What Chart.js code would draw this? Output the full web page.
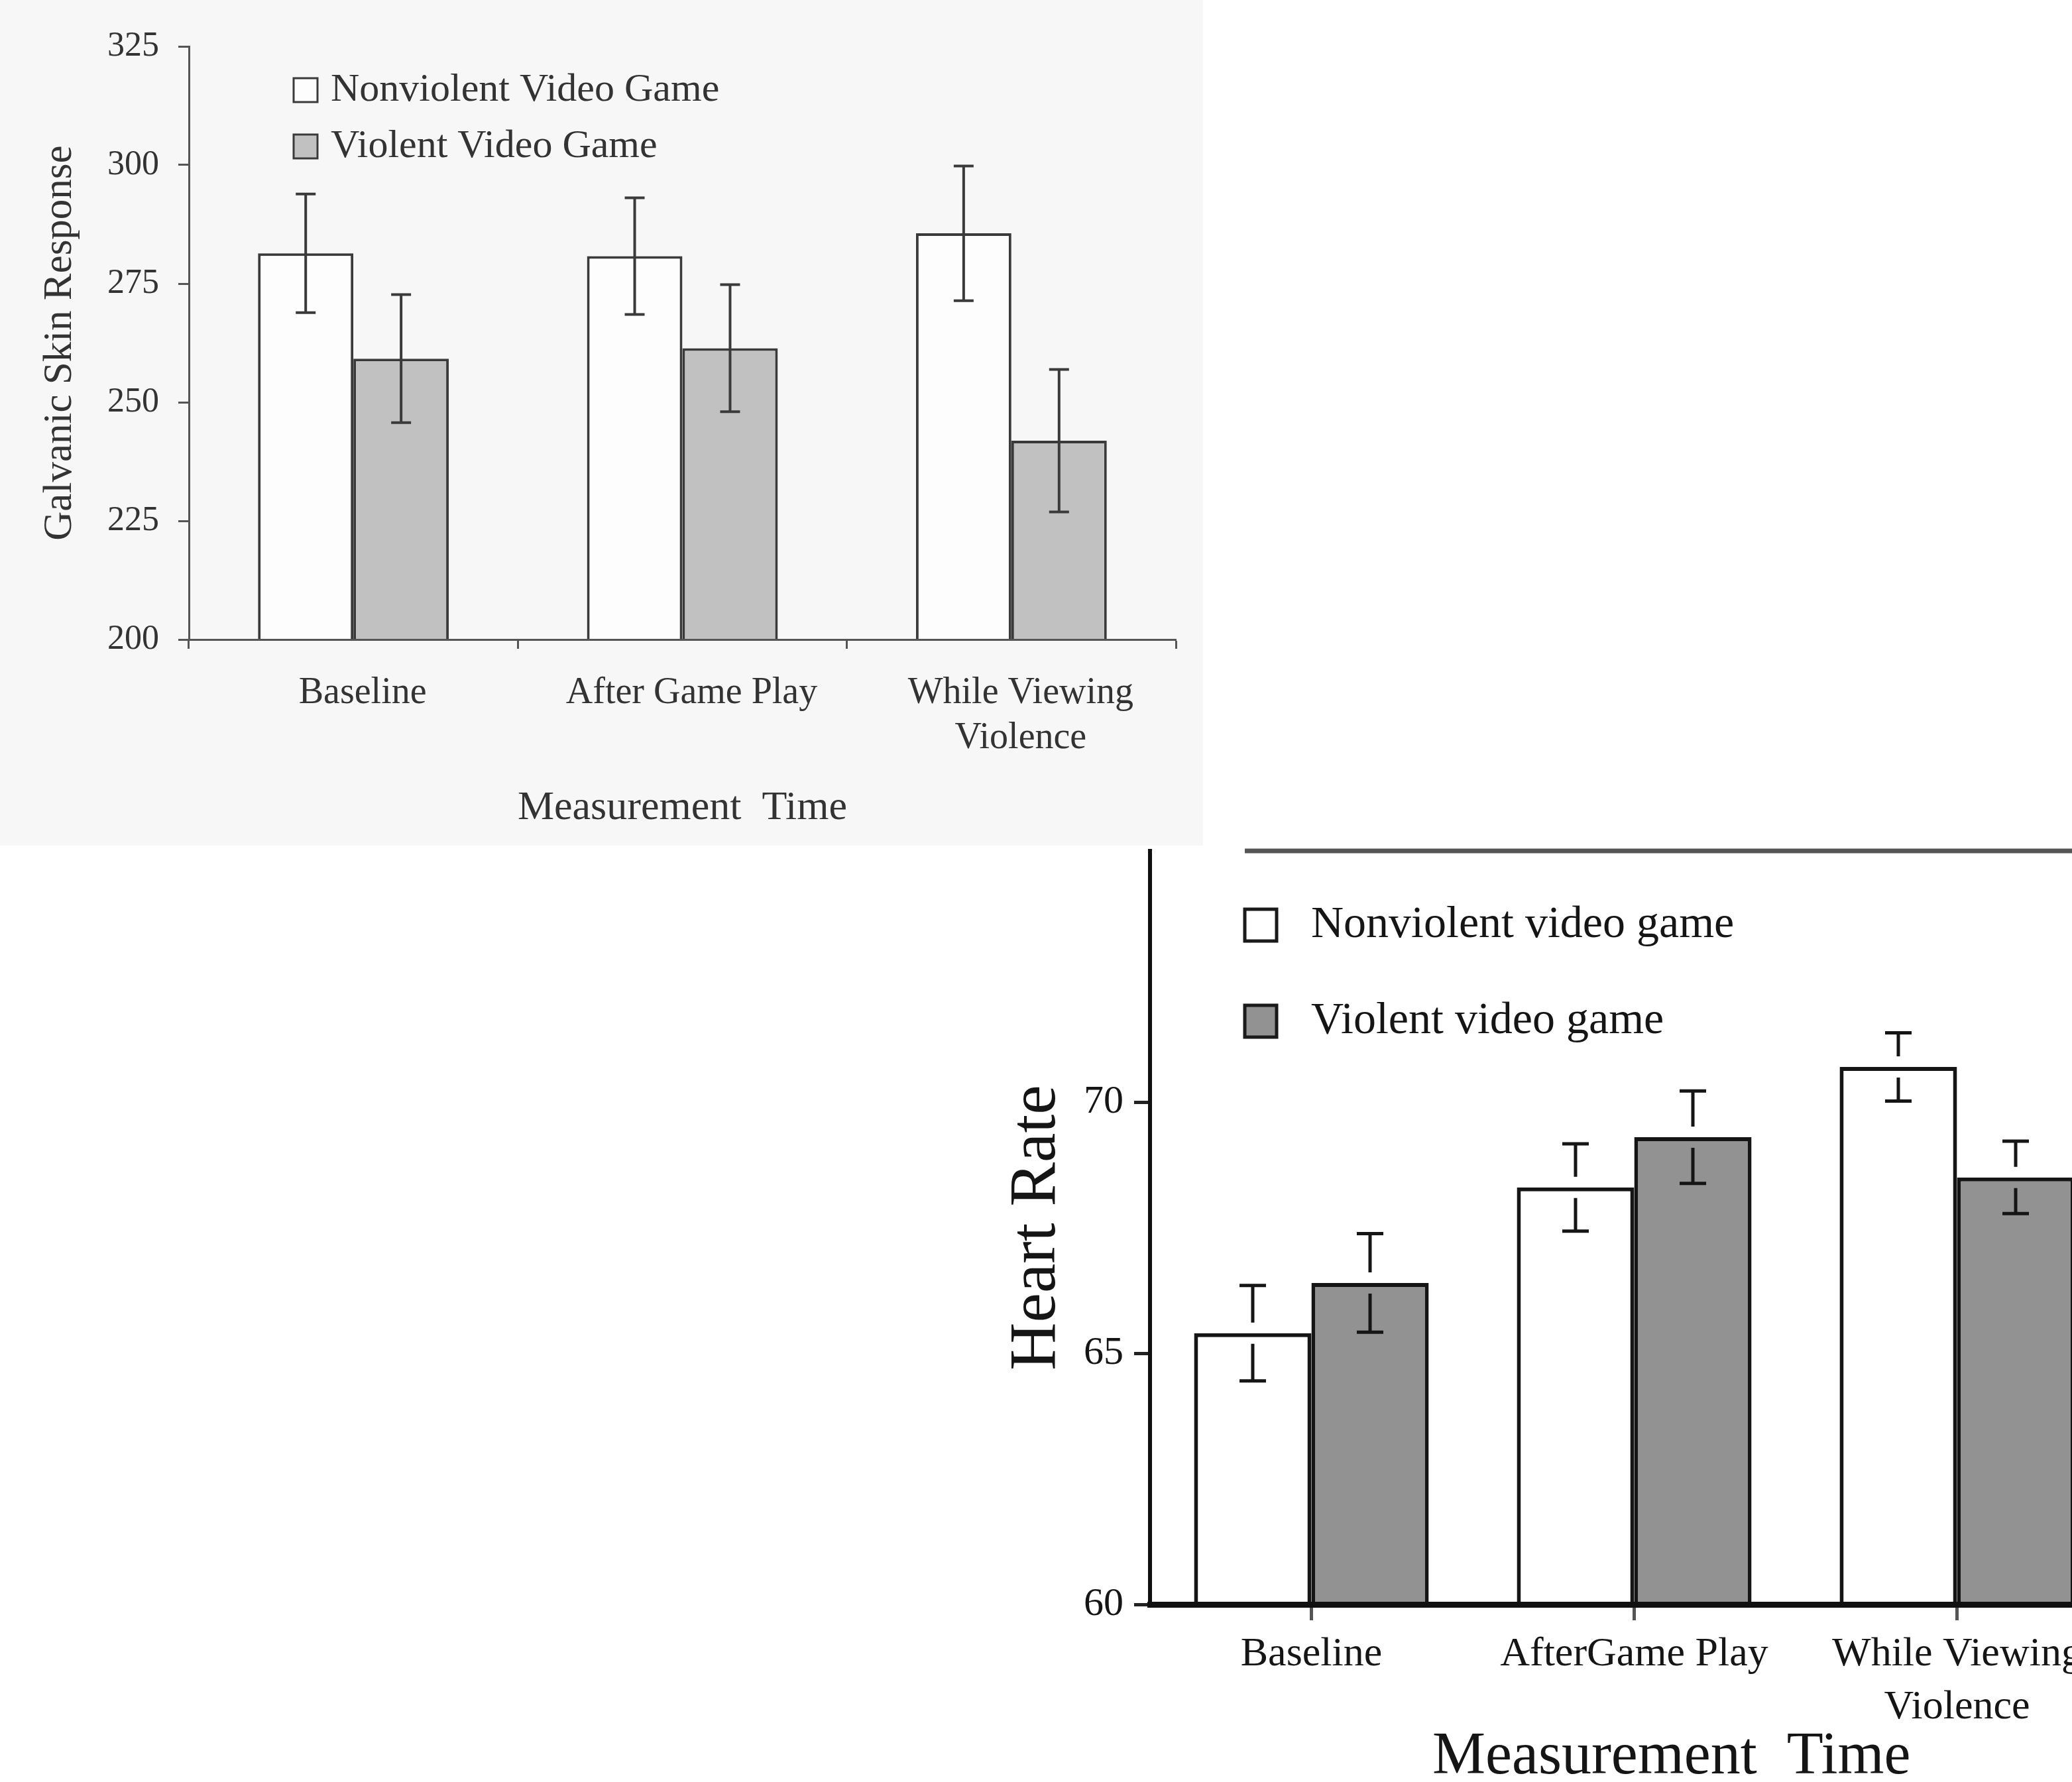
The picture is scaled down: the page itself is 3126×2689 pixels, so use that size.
<!DOCTYPE html>
<html>
<head>
<meta charset="utf-8">
<script src="https://cdn.jsdelivr.net/npm/chart.js@4.4.0/dist/chart.umd.min.js"></script>
<style>
  html, body { margin: 0; padding: 0; background: #fff; overflow: hidden; width: 3126px; height: 2689px; }
  #panel1 { position: absolute; left: 0; top: 0; width: 1815px; height: 1276px; background: #f7f7f7; }
  #gsrChart { position: absolute; left: 0; top: 0; }
  #hrChart { position: absolute; left: 1480px; top: 1270px; }
</style>
</head>
<body>
<div id="panel1"></div>
<canvas id="gsrChart" width="1815" height="1276"></canvas>
<canvas id="hrChart" width="1716" height="1480"></canvas>
<script>
// top chart: galvanic skin response
const gsrCategories = ["Baseline", "After Game Play", ["While Viewing", "Violence"]];
const gsrNonviolent = [281.4, 280.8, 285.6];
const gsrNonviolentErr = [12.5, 12.3, 14.2];
const gsrViolent = [259.2, 261.4, 241.9];
const gsrViolentErr = [13.5, 13.4, 15.0];
const gsrTicks = [200, 225, 250, 275, 300, 325];

// bottom chart: heart rate
const hrCategories = ["Baseline", "AfterGame Play", ["While Viewing", "Violence"]];
const hrNonviolent = [65.4, 68.3, 70.7];
const hrNonviolentErr = [0.95, 0.87, 0.68];
const hrViolent = [66.4, 69.3, 68.5];
const hrViolentErr = [0.98, 0.92, 0.72];
const hrTicks = [60, 65, 70];

const serif = "Liberation Serif";

const errorBars = {
  id: "errorBars",
  afterDatasetsDraw(chart, args, o) {
    const ctx = chart.ctx;
    const y = chart.scales.y;
    chart.data.datasets.forEach((ds, i) => {
      chart.getDatasetMeta(i).data.forEach((bar, j) => {
        const v = ds.data[j], e = ds.errors[j];
        const top = y.getPixelForValue(v + e);
        const bot = y.getPixelForValue(v - e);
        const mid = y.getPixelForValue(v);
        ctx.save();
        ctx.strokeStyle = o.color;
        ctx.lineWidth = o.width;
        ctx.beginPath();
        if (o.gap) {
          ctx.moveTo(bar.x, top); ctx.lineTo(bar.x, mid - o.gap);
          ctx.moveTo(bar.x, mid + o.gap); ctx.lineTo(bar.x, bot);
        } else {
          ctx.moveTo(bar.x, top); ctx.lineTo(bar.x, bot);
        }
        ctx.moveTo(bar.x - o.cap / 2, top); ctx.lineTo(bar.x + o.cap / 2, top);
        ctx.moveTo(bar.x - o.cap / 2, bot); ctx.lineTo(bar.x + o.cap / 2, bot);
        ctx.stroke();
        ctx.restore();
      });
    });
  }
};

const boxLegend = {
  id: "boxLegend",
  afterDraw(chart, args, o) {
    const ctx = chart.ctx;
    ctx.save();
    if (o.topLine) {
      const ly = chart.chartArea.top;
      ctx.strokeStyle = o.topLine.color;
      ctx.lineWidth = o.topLine.width;
      ctx.beginPath();
      ctx.moveTo(o.x, ly);
      ctx.lineTo(chart.width, ly);
      ctx.stroke();
    }
    chart.data.datasets.forEach((ds, i) => {
      const cy = o.y + i * o.step;
      ctx.fillStyle = ds.backgroundColor;
      ctx.fillRect(o.x, cy - o.box / 2, o.box, o.box);
      ctx.strokeStyle = o.boxStroke;
      ctx.lineWidth = o.lineWidth;
      ctx.strokeRect(o.x, cy - o.box / 2, o.box, o.box);
      ctx.fillStyle = o.color;
      ctx.font = o.font;
      ctx.textBaseline = "middle";
      ctx.textAlign = "left";
      ctx.fillText(ds.label, o.x + o.box + o.textGap, cy);
    });
    ctx.restore();
  }
};

new Chart(document.getElementById("gsrChart"), {
  type: "bar",
  data: {
    labels: gsrCategories,
    datasets: [
      { label: "Nonviolent Video Game", data: gsrNonviolent, errors: gsrNonviolentErr,
        backgroundColor: "#fdfdfd", borderColor: "#3a3a3a", borderWidth: 4 },
      { label: "Violent Video Game", data: gsrViolent, errors: gsrViolentErr,
        backgroundColor: "#c1c1c1", borderColor: "#3a3a3a", borderWidth: 4 }
    ]
  },
  options: {
    responsive: false,
    animation: false,
    layout: { padding: { top: 70, right: 41, left: 0, bottom: 0 } },
    datasets: { bar: { categoryPercentage: 0.58, barPercentage: 1 } },
    plugins: {
      legend: { display: false },
      tooltip: { enabled: false },
      errorBars: { color: "#3a3a3a", width: 4, cap: 30 },
      boxLegend: { x: 443, y: 136, step: 85, box: 36, textGap: 20, lineWidth: 3,
        boxStroke: "#3a3a3a", color: "#333", font: "60px " + serif }
    },
    scales: {
      x: {
        grid: { drawOnChartArea: false, offset: true, tickLength: 14, tickWidth: 3, tickColor: "#555" },
        border: { color: "#555", width: 3, z: 1 },
        ticks: { color: "#333", font: { family: serif, size: 56 }, padding: 34, labelOffset: 14 },
        title: { display: true, text: "Measurement  Time", color: "#333",
          font: { family: serif, size: 62 }, padding: { top: 0, bottom: 19 } },
        afterFit: s => { s.height = 311; s.paddingLeft = 0; s.paddingRight = 0; }
      },
      y: {
        min: 200, max: 325,
        afterBuildTicks: s => { s.ticks = gsrTicks.map(v => ({ value: v })); },
        grid: { drawOnChartArea: false, tickLength: 16, tickWidth: 3, tickColor: "#555" },
        border: { color: "#555", width: 3 },
        ticks: { color: "#333", font: { family: serif, size: 52 }, padding: 29 },
        title: { display: true, text: "Galvanic Skin Response", color: "#333",
          font: { family: serif, size: 61 }, padding: { top: 54, bottom: 0 } },
        afterFit: s => { s.width = 285; s.paddingTop = 0; s.paddingBottom = 0; }
      }
    }
  },
  plugins: [errorBars, boxLegend]
});

new Chart(document.getElementById("hrChart"), {
  type: "bar",
  data: {
    labels: hrCategories,
    datasets: [
      { label: "Nonviolent video game", data: hrNonviolent, errors: hrNonviolentErr,
        backgroundColor: "#ffffff", borderColor: "#151515", borderWidth: 6 },
      { label: "Violent video game", data: hrViolent, errors: hrViolentErr,
        backgroundColor: "#929292", borderColor: "#151515", borderWidth: 6 }
    ]
  },
  options: {
    responsive: false,
    animation: false,
    layout: { padding: { top: 14, right: 0, left: 0, bottom: 0 } },
    datasets: { bar: { categoryPercentage: 0.727, barPercentage: 1 } },
    plugins: {
      legend: { display: false },
      tooltip: { enabled: false },
      errorBars: { color: "#151515", width: 5, cap: 40, gap: 16 },
      boxLegend: { x: 398, y: 126, step: 145, box: 48, textGap: 52, lineWidth: 5,
        boxStroke: "#1a1a1a", color: "#151515", font: "68px " + serif,
        topLine: { color: "#555", width: 7 } }
    },
    scales: {
      x: {
        grid: { drawOnChartArea: false, offset: false, tickLength: 24, tickWidth: 5, tickColor: "#555" },
        border: { color: "#111", width: 9, z: 1 },
        ticks: { color: "#151515", font: { family: serif, size: 62, lineHeight: 1.3 }, padding: 11 },
        title: { display: true, text: "     Measurement  Time", color: "#151515",
          font: { family: serif, size: 90 }, padding: { top: 0, bottom: 44 } },
        afterFit: s => { s.height = 329; s.paddingLeft = 0; s.paddingRight = 0; }
      },
      y: {
        min: 60, max: 75,
        afterBuildTicks: s => { s.ticks = hrTicks.map(v => ({ value: v })); },
        grid: { drawOnChartArea: false, tickLength: 24, tickWidth: 5, tickColor: "#222" },
        border: { color: "#111", width: 6, z: 1 },
        ticks: { color: "#151515", font: { family: serif, size: 60 }, padding: 16 },
        title: { display: true, text: "Heart Rate", color: "#151515",
          font: { family: serif, size: 100 }, padding: { top: 25, bottom: 0 } },
        afterFit: s => { s.width = 255; s.paddingTop = 0; s.paddingBottom = 0; }
      }
    }
  },
  plugins: [errorBars, boxLegend]
});
</script>
</body>
</html>
